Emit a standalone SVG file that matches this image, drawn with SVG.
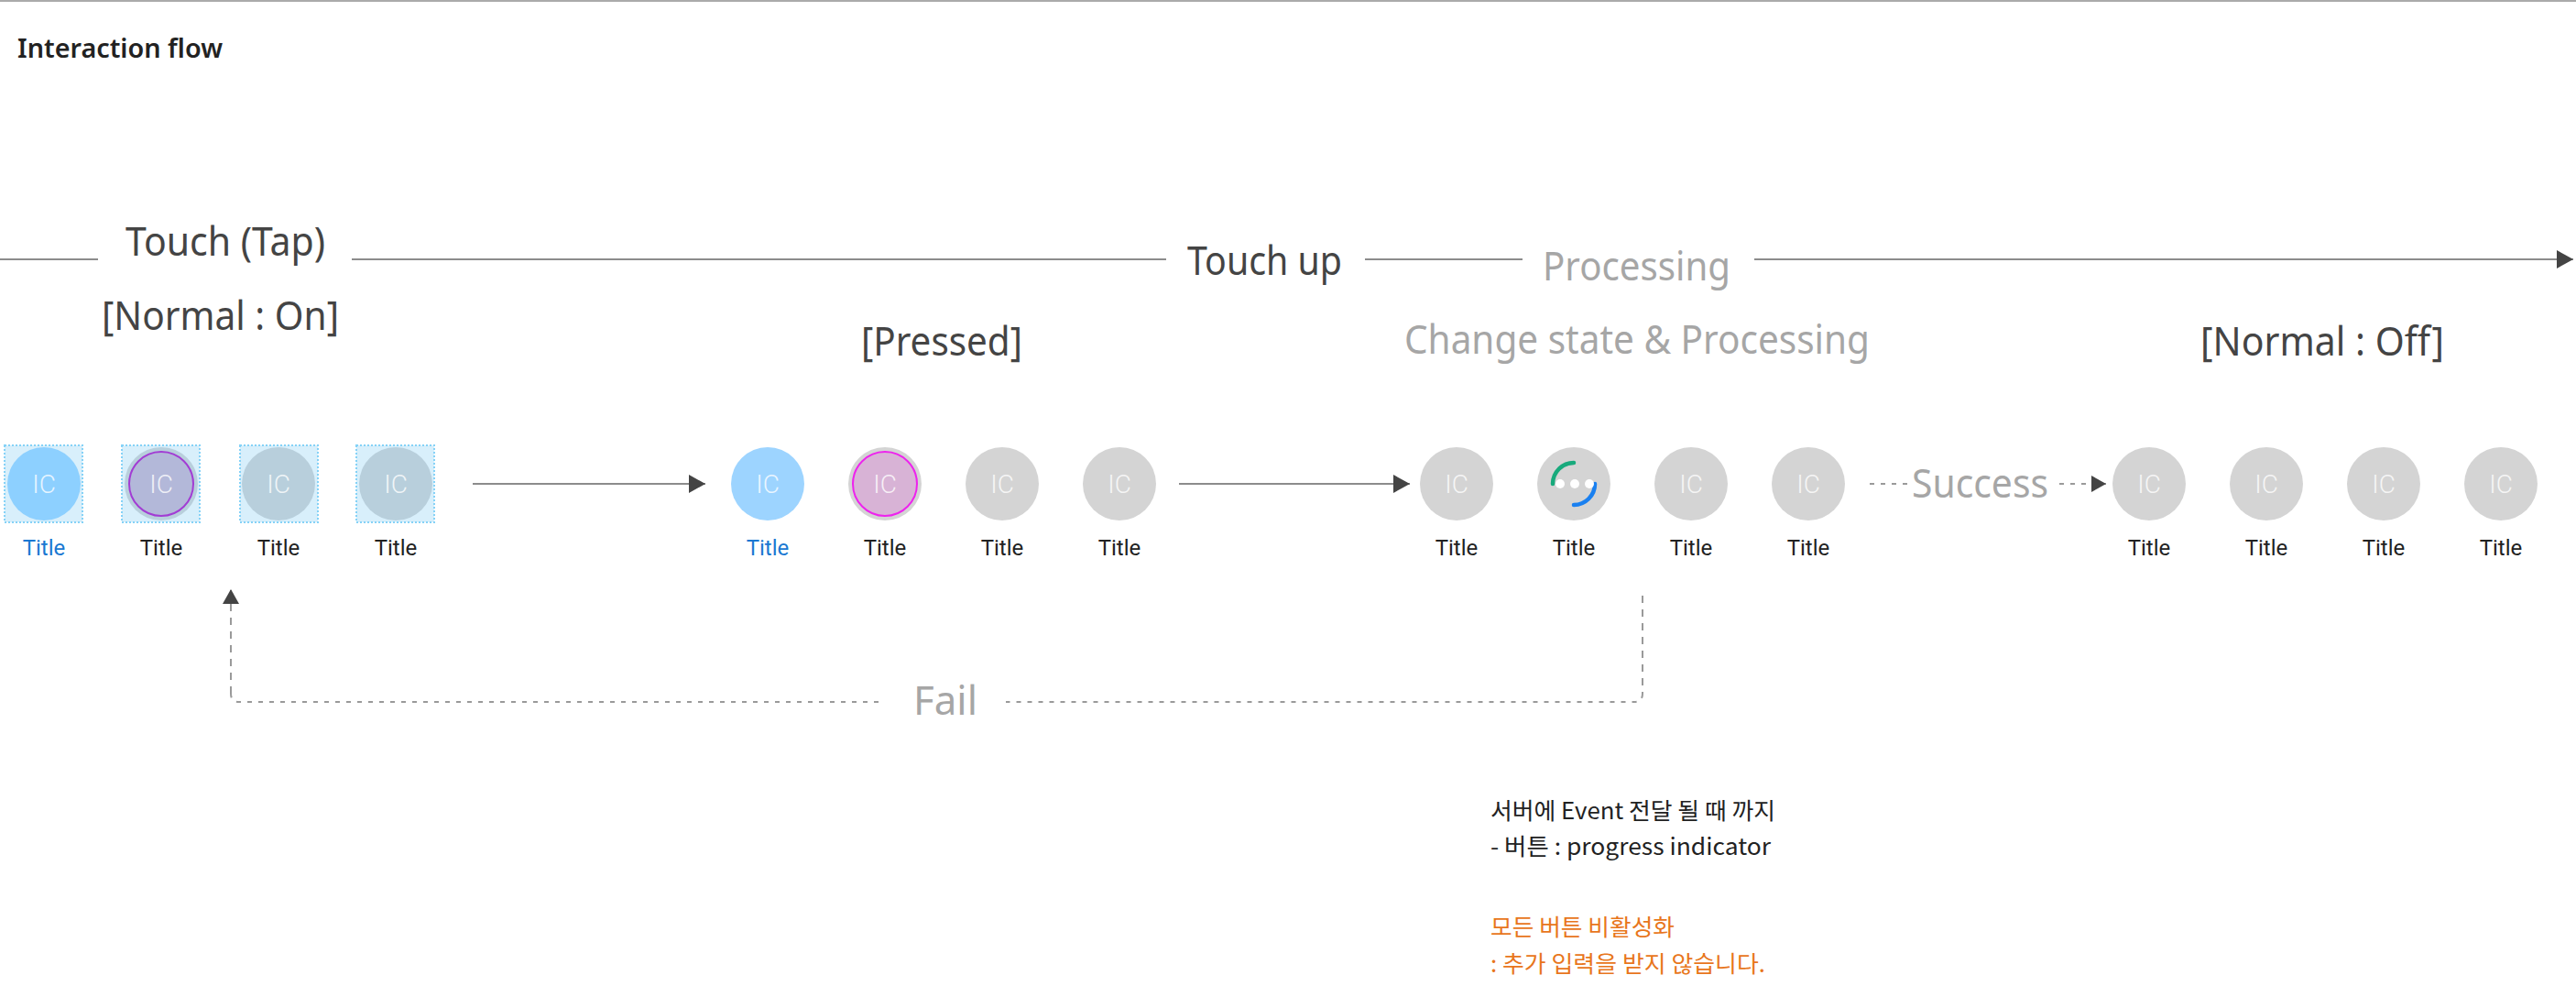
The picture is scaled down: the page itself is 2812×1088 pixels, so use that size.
<svg xmlns="http://www.w3.org/2000/svg" width="2812" height="1088" viewBox="0 0 2812 1088">
<defs>
<style>
.hd{font-family:"Noto Sans","Liberation Sans",sans-serif;font-size:44px;fill:#444}
.gr{fill:#a6a6a6}
.ttl{font-family:Roboto,"Liberation Sans",sans-serif;font-size:24px;fill:#222;text-anchor:middle}
.blue{fill:#1a78d2}
.ic{font-family:Roboto,"Liberation Sans",sans-serif;font-weight:300;font-size:28px;fill:#fff;fill-opacity:0.8;text-anchor:middle}
.kr{font-family:"Noto Sans CJK KR","Noto Sans",sans-serif;font-size:25px;fill:#222}
.or{fill:#e8761c}
.sq{fill:#d8effb;stroke:#85d2f7;stroke-width:2;stroke-dasharray:2 2}
.g{fill:#d4d4d4}
.gb{fill:#b8cfdc}
.ln{stroke:#8c8c8c;stroke-width:2;fill:none}
.dsh{stroke:#9a9a9a;stroke-width:2;fill:none;stroke-dasharray:5 7}
.dshv{stroke:#9a9a9a;stroke-width:2;fill:none;stroke-dasharray:8 7}
</style>
<marker id="ah" markerWidth="18" markerHeight="20" refX="18" refY="10" orient="auto" markerUnits="userSpaceOnUse"><path d="M0,0 L18,10 L0,20 Z" fill="#444"/></marker>
<marker id="ahs" markerWidth="16" markerHeight="18" refX="16" refY="9" orient="auto" markerUnits="userSpaceOnUse"><path d="M0,0 L16,9 L0,18 Z" fill="#444"/></marker>
</defs>
<rect width="2812" height="1088" fill="#fff"/>
<line x1="0" y1="1" x2="2812" y2="1" stroke="#aaa" stroke-width="2"/>
<text x="19" y="63" font-family="Noto Sans,Liberation Sans,sans-serif" font-size="28" font-weight="600" fill="#222" textLength="224" lengthAdjust="spacingAndGlyphs">Interaction flow</text>

<g id="labels">
<text class="hd" x="137" y="279" textLength="218" lengthAdjust="spacingAndGlyphs">Touch (Tap)</text>
<text class="hd" x="111" y="360" textLength="259" lengthAdjust="spacingAndGlyphs">[Normal : On]</text>
<text class="hd" x="1296" y="300" textLength="169" lengthAdjust="spacingAndGlyphs">Touch up</text>
<text class="hd gr" x="1684" y="306" textLength="205" lengthAdjust="spacingAndGlyphs">Processing</text>
<text class="hd" x="940" y="388" textLength="176" lengthAdjust="spacingAndGlyphs">[Pressed]</text>
<text class="hd gr" x="1533" y="386" textLength="508" lengthAdjust="spacingAndGlyphs">Change state &amp; Processing</text>
<text class="hd" x="2402" y="388" textLength="266" lengthAdjust="spacingAndGlyphs">[Normal : Off]</text>
<text class="hd gr" x="2087" y="543" font-size="42" textLength="149" lengthAdjust="spacingAndGlyphs">Success</text>
<text class="hd gr" x="997" y="780" font-size="42" textLength="70" lengthAdjust="spacingAndGlyphs">Fail</text>
</g>

<g id="connectors">
<line class="ln" x1="0" y1="283" x2="107" y2="283"/>
<line class="ln" x1="384" y1="283" x2="1273" y2="283"/>
<line class="ln" x1="1490" y1="283" x2="1662" y2="283"/>
<line class="ln" x1="1915" y1="283" x2="2809" y2="283" marker-end="url(#ah)"/>
<line class="ln" x1="516" y1="528" x2="770" y2="528" marker-end="url(#ah)"/>
<line class="ln" x1="1287" y1="528" x2="1539" y2="528" marker-end="url(#ah)"/>
<line class="dsh" x1="2041" y1="528" x2="2083" y2="528"/>
<line class="dsh" x1="2248" y1="528" x2="2299" y2="528" marker-end="url(#ahs)"/>
<path class="dshv" d="M1793 650 V757"/>
<path class="dsh" d="M1793 757 Q1793 766 1784 766 H1098"/>
<path class="dsh" d="M959 766 H261 Q252 766 252 757"/>
<path class="dshv" d="M252 757 V643" marker-end="url(#ahs)"/>
</g>

<g id="node1"><rect class="sq" x="5" y="486" width="85" height="84"/><circle cx="48" cy="528" r="40" fill="#8dd0ff"/><text class="ic" x="48" y="538">IC</text><text class="ttl blue" x="48" y="606">Title</text></g>
<g id="node2"><rect class="sq" x="133" y="486" width="85" height="84"/><circle cx="176" cy="528" r="40" class="gb"/><circle cx="176" cy="528" r="35" fill="#b3b8d9" stroke="#a23cd4" stroke-width="2"/><text class="ic" x="176" y="538">IC</text><text class="ttl" x="176" y="606">Title</text></g>
<g id="node3"><rect class="sq" x="262" y="486" width="85" height="84"/><circle cx="304" cy="528" r="40" class="gb"/><text class="ic" x="304" y="538">IC</text><text class="ttl" x="304" y="606">Title</text></g>
<g id="node4"><rect class="sq" x="389" y="486" width="85" height="84"/><circle cx="432" cy="528" r="40" class="gb"/><text class="ic" x="432" y="538">IC</text><text class="ttl" x="432" y="606">Title</text></g>

<g id="node5"><circle cx="838" cy="528" r="40" fill="#9dd4ff"/><text class="ic" x="838" y="538">IC</text><text class="ttl blue" x="838" y="606">Title</text></g>
<g id="node6"><circle cx="966" cy="528" r="40" class="g"/><circle cx="966" cy="528" r="35" fill="#d8b3d6" stroke="#ee22ee" stroke-width="2"/><text class="ic" x="966" y="538">IC</text><text class="ttl" x="966" y="606">Title</text></g>
<g id="node7"><circle cx="1094" cy="528" r="40" class="g"/><text class="ic" x="1094" y="538">IC</text><text class="ttl" x="1094" y="606">Title</text></g>
<g id="node8"><circle cx="1222" cy="528" r="40" class="g"/><text class="ic" x="1222" y="538">IC</text><text class="ttl" x="1222" y="606">Title</text></g>

<g id="node9"><circle cx="1590" cy="528" r="40" class="g"/><text class="ic" x="1590" y="538">IC</text><text class="ttl" x="1590" y="606">Title</text></g>
<g id="node10"><circle cx="1718" cy="528" r="40" class="g"/>
<path d="M1695 528 A23 23 0 0 1 1718 505" fill="none" stroke="#18aa7c" stroke-width="4.5" stroke-linecap="round"/>
<path d="M1741 528 A23 23 0 0 1 1718 551" fill="none" stroke="#1a80f0" stroke-width="4.5" stroke-linecap="round"/>
<circle cx="1703" cy="528" r="5" fill="#fff"/><circle cx="1719" cy="528" r="5" fill="#fff"/><circle cx="1735" cy="528" r="5" fill="#fff"/>
<text class="ttl" x="1718" y="606">Title</text></g>
<g id="node11"><circle cx="1846" cy="528" r="40" class="g"/><text class="ic" x="1846" y="538">IC</text><text class="ttl" x="1846" y="606">Title</text></g>
<g id="node12"><circle cx="1974" cy="528" r="40" class="g"/><text class="ic" x="1974" y="538">IC</text><text class="ttl" x="1974" y="606">Title</text></g>

<g id="node13"><circle cx="2346" cy="528" r="40" class="g"/><text class="ic" x="2346" y="538">IC</text><text class="ttl" x="2346" y="606">Title</text></g>
<g id="node14"><circle cx="2474" cy="528" r="40" class="g"/><text class="ic" x="2474" y="538">IC</text><text class="ttl" x="2474" y="606">Title</text></g>
<g id="node15"><circle cx="2602" cy="528" r="40" class="g"/><text class="ic" x="2602" y="538">IC</text><text class="ttl" x="2602" y="606">Title</text></g>
<g id="node16"><circle cx="2730" cy="528" r="40" class="g"/><text class="ic" x="2730" y="538">IC</text><text class="ttl" x="2730" y="606">Title</text></g>

<g id="note">
<text class="kr" x="1627" y="894" textLength="311" lengthAdjust="spacingAndGlyphs">서버에 Event 전달 될 때 까지</text>
<text class="kr" x="1627" y="933" textLength="306" lengthAdjust="spacingAndGlyphs">- 버튼 : progress indicator</text>
<text class="kr or" x="1627" y="1021" textLength="201" lengthAdjust="spacingAndGlyphs">모든 버튼 비활성화</text>
<text class="kr or" x="1627" y="1061" textLength="300" lengthAdjust="spacingAndGlyphs">: 추가 입력을 받지 않습니다.</text>
</g>
</svg>
